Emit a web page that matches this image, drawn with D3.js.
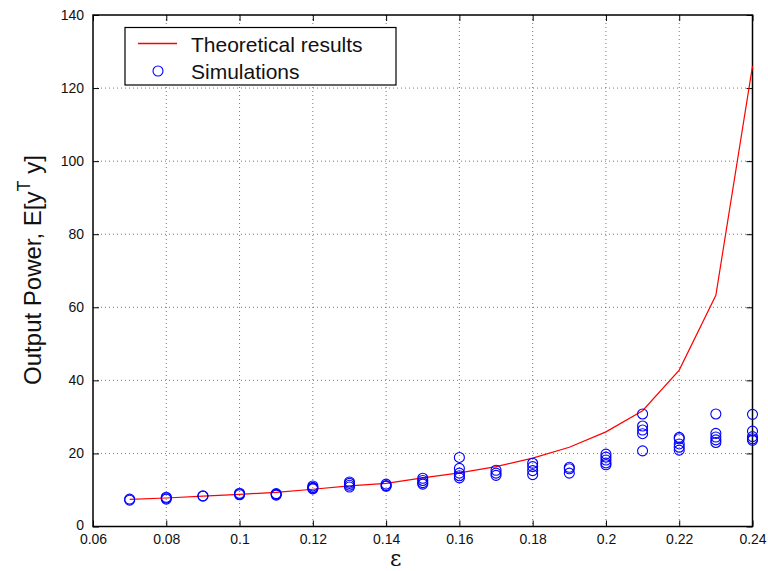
<!DOCTYPE html>
<html>
<head>
<meta charset="utf-8">
<script src="https://cdn.jsdelivr.net/npm/d3@7"></script>
<style>
  body { margin: 0; background: #fff; }
  svg { font-family: "Liberation Sans", Arial, sans-serif; }
</style>
</head>
<body>
<svg width="768" height="571"></svg>
<script>
// epsilon values
var eps = [0.07, 0.08, 0.09, 0.10, 0.11, 0.12, 0.13, 0.14, 0.15, 0.16, 0.17, 0.18,
           0.19, 0.20, 0.21, 0.22, 0.23, 0.24];

// theoretical curve
var theory = [7.4, 7.8, 8.3, 8.8, 9.35, 10.2, 11.1, 11.8, 13.3, 14.7, 16.4, 18.7,
              21.7, 25.9, 31.7, 42.8, 63.3, 126];

// simulation runs, one list per epsilon
var sims = [
  [7.2, 7.5],
  [7.5, 7.8, 8.0],
  [8.3, 8.4],
  [8.7, 8.9, 9.1],
  [8.6, 8.8, 9.0],
  [10.3, 10.5, 10.7, 11.1],
  [10.8, 11.3, 11.8, 12.2],
  [11.0, 11.2, 11.6],
  [11.6, 12.0, 12.6, 13.2],
  [13.3, 13.9, 14.6, 15.9, 18.9],
  [14.0, 14.6, 15.4],
  [14.2, 15.3, 16.4, 17.3],
  [14.6, 15.8, 16.2],
  [16.9, 17.4, 18.2, 19.0, 19.8],
  [20.7, 25.4, 26.4, 27.5, 30.8],
  [20.9, 21.7, 22.6, 24.0, 24.4],
  [23.0, 23.7, 24.5, 25.5, 30.8],
  [23.6, 24.0, 24.6, 26.1, 30.7]
];

var xTicks = [0.06, 0.08, 0.1, 0.12, 0.14, 0.16, 0.18, 0.2, 0.22, 0.24];
var yTicks = [0, 20, 40, 60, 80, 100, 120, 140];

var svg = d3.select("svg");
var pL = 93, pR = 752.5, pT = 15, pB = 526.5;

var x = d3.scaleLinear().domain([0.06, 0.24]).range([pL, pR]);
var y = d3.scaleLinear().domain([0, 140]).range([pB, pT]);

// grid
var grid = svg.append("g").attr("stroke", "#555").attr("stroke-width", 0.8)
  .attr("stroke-dasharray", "1,3");
grid.selectAll(".vx").data(xTicks.slice(1, -1)).enter().append("line")
  .attr("x1", d => x(d)).attr("x2", d => x(d))
  .attr("y1", pT).attr("y2", pB);
grid.selectAll(".hy").data(yTicks.slice(1, -1)).enter().append("line")
  .attr("y1", d => y(d)).attr("y2", d => y(d))
  .attr("x1", pL).attr("x2", pR);

// axes with inward ticks
var fmt = d => String(+d.toFixed(2));
function styleText(g) {
  g.attr("font-size", 14).attr("font-family", "Liberation Sans, Arial");
  g.selectAll("text").attr("fill", "#111");
  g.selectAll("line").attr("stroke", "#000");
}
svg.append("g").attr("transform", "translate(0," + pB + ")")
  .call(d3.axisBottom(x).tickValues(xTicks).tickFormat(fmt).tickSizeInner(-6).tickSizeOuter(0).tickPadding(8))
  .call(g => g.select(".domain").remove())
  .call(styleText);
svg.append("g").attr("transform", "translate(0," + pT + ")")
  .call(d3.axisTop(x).tickValues(xTicks).tickFormat("").tickSizeInner(-6).tickSizeOuter(0))
  .call(g => g.select(".domain").remove());
svg.append("g").attr("transform", "translate(" + pL + ",0)")
  .call(d3.axisLeft(y).tickValues(yTicks).tickSizeInner(-6).tickSizeOuter(0).tickPadding(9))
  .call(g => g.select(".domain").remove())
  .call(styleText)
  .call(g => g.selectAll(".tick").filter(d => d === 0).select("text").attr("dy", "0.2em"));
svg.append("g").attr("transform", "translate(" + pR + ",0)")
  .call(d3.axisRight(y).tickValues(yTicks).tickFormat("").tickSizeInner(-6).tickSizeOuter(0))
  .call(g => g.select(".domain").remove());

svg.append("rect").attr("x", pL).attr("y", pT)
  .attr("width", pR - pL).attr("height", pB - pT)
  .attr("fill", "none").attr("stroke", "#000").attr("stroke-width", 1.5);

// theoretical line
var line = d3.line().x((d, i) => x(eps[i])).y(d => y(d));
svg.append("path").datum(theory).attr("d", line)
  .attr("fill", "none").attr("stroke", "#ff0000").attr("stroke-width", 1.2);

// simulation circles
var pts = [];
sims.forEach(function(vals, i) {
  vals.forEach(function(v) { pts.push({e: eps[i], v: v}); });
});
svg.append("g").selectAll("circle").data(pts).enter().append("circle")
  .attr("cx", d => x(d.e)).attr("cy", d => y(d.v)).attr("r", 5)
  .attr("fill", "none").attr("stroke", "#0000ff").attr("stroke-width", 1.1);

// legend
var lg = svg.append("g");
lg.append("rect").attr("x", 125).attr("y", 27.5).attr("width", 271).attr("height", 57.5)
  .attr("fill", "#fff").attr("stroke", "#000").attr("stroke-width", 1.2);
lg.append("line").attr("x1", 138).attr("x2", 177).attr("y1", 43.5).attr("y2", 43.5)
  .attr("stroke", "#ff0000").attr("stroke-width", 1.3);
lg.append("circle").attr("cx", 158).attr("cy", 71).attr("r", 5)
  .attr("fill", "none").attr("stroke", "#0000ff").attr("stroke-width", 1.1);
lg.append("text").attr("x", 191).attr("y", 52).attr("font-size", 21).attr("fill", "#111")
  .text("Theoretical results");
lg.append("text").attr("x", 191).attr("y", 79).attr("font-size", 21).attr("fill", "#111")
  .text("Simulations");

// axis labels
svg.append("text").attr("x", (pL + pR) / 2 - 27).attr("y", 566)
  .attr("text-anchor", "middle").attr("font-size", 22).attr("font-family", "DejaVu Serif, serif")
  .attr("fill", "#111").text("ε");
var yl = svg.append("text").attr("transform", "translate(41,270) rotate(-90)")
  .attr("text-anchor", "middle").attr("font-size", 24).attr("fill", "#111");
yl.append("tspan").text("Output Power, E[y");
yl.append("tspan").attr("dy", -11).attr("font-size", 18).text("T");
yl.append("tspan").attr("dy", 11).text(" y]");
</script>
</body>
</html>
